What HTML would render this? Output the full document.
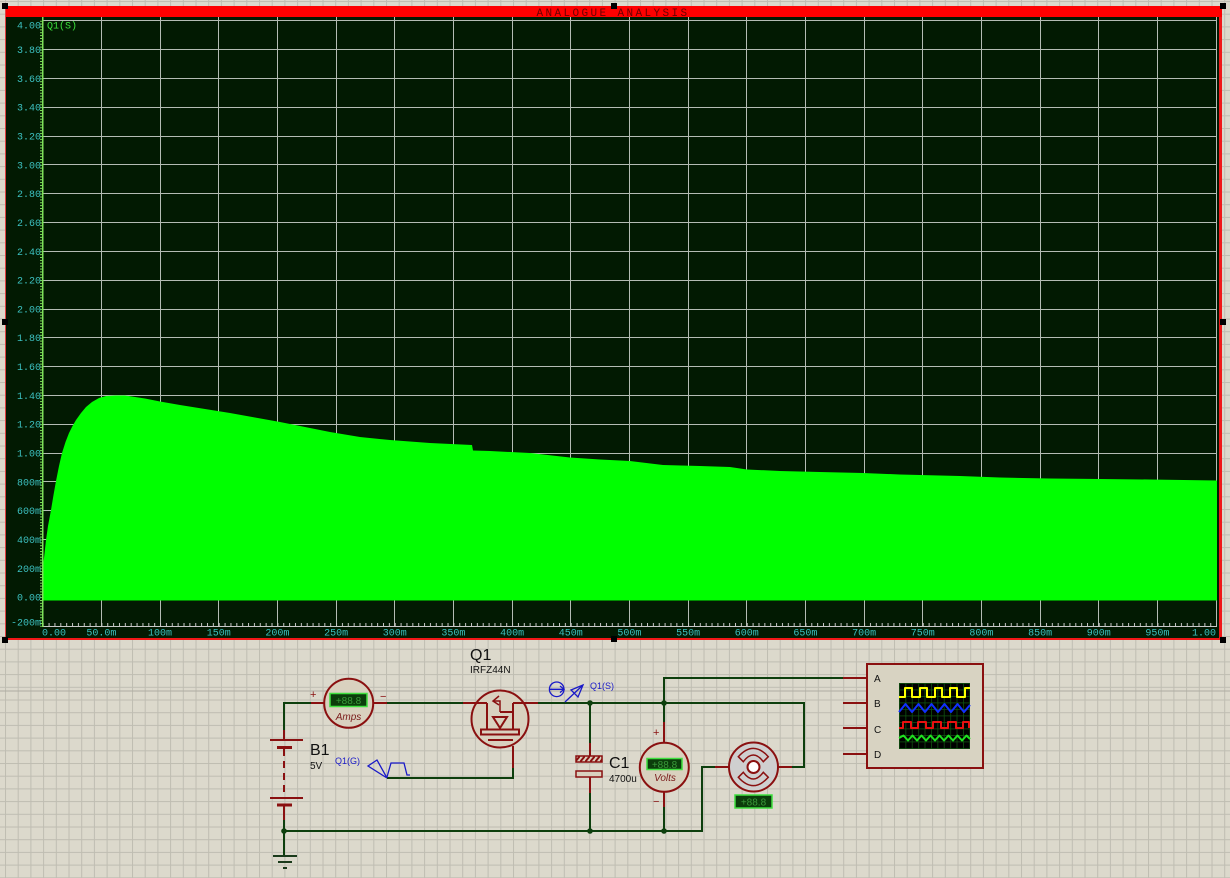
<!DOCTYPE html>
<html><head><meta charset="utf-8"><style>
html,body{margin:0;padding:0;background:#dcd9cc;}
svg{display:block;}
.mono{font-family:"Liberation Mono",monospace;}
.sans{font-family:"Liberation Sans",sans-serif;}
</style></head><body>
<svg width="1230" height="878" viewBox="0 0 1230 878" xmlns="http://www.w3.org/2000/svg">
<defs>
<pattern id="g" x="5" y="1" width="12.7" height="12.7" patternUnits="userSpaceOnUse">
<rect width="12.7" height="12.7" fill="#dcd9cc"/>
<rect x="0" y="0" width="1" height="12.7" fill="#bfbdb2"/>
<rect x="0" y="0" width="12.7" height="1" fill="#bfbdb2"/>
</pattern>
<pattern id="xt" x="42.7" y="0" width="5.867" height="10" patternUnits="userSpaceOnUse">
<rect x="0" y="0" width="1" height="10" fill="#c8c8c8"/>
</pattern>
<pattern id="yt" x="0" y="20.7" width="10" height="2.882" patternUnits="userSpaceOnUse">
<rect x="0" y="0" width="10" height="1" fill="#7ee05a"/>
</pattern>
<pattern id="hatch" x="0" y="0" width="5" height="6" patternUnits="userSpaceOnUse">
<rect width="5" height="6" fill="#d9d1bf"/>
<path d="M0,6 L5,0" stroke="#8a1010" stroke-width="2"/>
</pattern>
<pattern id="scr" x="899" y="683" width="6.4" height="6.5" patternUnits="userSpaceOnUse">
<rect width="6.4" height="6.5" fill="#000"/>
<rect x="0" y="0" width="0.8" height="6.5" fill="#0f4f0f"/>
<rect x="0" y="0" width="6.4" height="0.8" fill="#0f4f0f"/>
</pattern>
</defs>

<!-- background grid -->
<rect width="1230" height="878" fill="url(#g)"/>
<rect x="0" y="690.5" width="1230" height="1" fill="#aeaca2"/>

<!-- plot frame -->
<rect x="6" y="17" width="1213" height="622" fill="#021a02"/>
<rect x="5" y="6" width="1" height="634" fill="#e04040"/>
<rect x="1219" y="6" width="3" height="634" fill="#f01818"/>
<rect x="5" y="638" width="1217" height="2" fill="#f01818"/>
<rect x="6" y="6" width="1216" height="11" fill="#ff0000"/>
<text x="613" y="16" class="mono" font-size="11" fill="#6a0000" text-anchor="middle" letter-spacing="2.4">ANALOGUE ANALYSIS</text>

<!-- plot gridlines -->
<g stroke="#b4bcb4" stroke-width="1" fill="none">
<path d="M42.5,17V626M101.5,17V626M160.5,17V626M218.5,17V626M277.5,17V626M336.5,17V626M394.5,17V626M453.5,17V626M512.5,17V626M570.5,17V626M629.5,17V626M688.5,17V626M746.5,17V626M805.5,17V626M864.5,17V626M922.5,17V626M981.5,17V626M1040.5,17V626M1098.5,17V626M1157.5,17V626M1216.5,17V626"/>
<path d="M43,20.5H1217M43,49.5H1217M43,78.5H1217M43,107.5H1217M43,136.5H1217M43,164.5H1217M43,193.5H1217M43,222.5H1217M43,251.5H1217M43,280.5H1217M43,309.5H1217M43,337.5H1217M43,366.5H1217M43,395.5H1217M43,424.5H1217M43,453.5H1217M43,481.5H1217M43,510.5H1217M43,539.5H1217M43,568.5H1217M43,597.5H1217"/>
</g>

<!-- curve -->
<polygon fill="#00ff00" points="42.7,600.5 42.7,568 44,558 46,540 48,526 51,510 53.5,495 56,481 59,466 62,453 65.5,442 69,433 72.5,426 76,420 81,413 86,407 92,402 99,398 106,396 115,395.5 125,395.5 135,397 145,398.5 160,401.5 180,405 205,409 230,413 255,417.5 280,422 305,427 330,432 360,437 390,440 430,443 472,445 473,450.5 490,451 530,453 570,457.5 600,459.5 630,461 663,465 700,466 730,467 747,469.5 780,471 820,472 863,473 900,474.5 960,476 1000,477.5 1050,478.5 1100,479 1150,479.5 1217,480.5 1217,600.5"/>

<!-- axes -->
<rect x="42" y="626" width="1175" height="1" fill="#c8c8c8"/>
<rect x="42.7" y="623" width="1174" height="3" fill="url(#xt)"/>
<rect x="42" y="17" width="1.5" height="610" fill="#7ee05a"/>
<rect x="40" y="20.7" width="2" height="606" fill="url(#yt)"/>

<!-- y labels -->
<g class="mono" font-size="10" fill="#3cc0c0" text-anchor="end">
<text x="41" y="28.5">4.00</text>
<text x="41" y="53">3.80</text>
<text x="41" y="82">3.60</text>
<text x="41" y="110.7">3.40</text>
<text x="41" y="139.5">3.20</text>
<text x="41" y="168.3">3.00</text>
<text x="41" y="197.1">2.80</text>
<text x="41" y="226">2.60</text>
<text x="41" y="254.8">2.40</text>
<text x="41" y="283.6">2.20</text>
<text x="41" y="312.4">2.00</text>
<text x="41" y="341.2">1.80</text>
<text x="41" y="370">1.60</text>
<text x="41" y="398.9">1.40</text>
<text x="41" y="427.7">1.20</text>
<text x="41" y="456.5">1.00</text>
<text x="41" y="485.3">800m</text>
<text x="41" y="514.1">600m</text>
<text x="41" y="543">400m</text>
<text x="41" y="571.8">200m</text>
<text x="41" y="600.6">0.00</text>
<text x="41" y="625.5">-200m</text>
</g>
<!-- x labels -->
<g class="mono" font-size="10" fill="#3cc0c0" text-anchor="middle">
<text x="42" y="635.5" text-anchor="start">0.00</text>
<text x="101.4" y="635.5">50.0m</text>
<text x="160" y="635.5">100m</text>
<text x="218.7" y="635.5">150m</text>
<text x="277.4" y="635.5">200m</text>
<text x="336.1" y="635.5">250m</text>
<text x="394.7" y="635.5">300m</text>
<text x="453.4" y="635.5">350m</text>
<text x="512.1" y="635.5">400m</text>
<text x="570.7" y="635.5">450m</text>
<text x="629.4" y="635.5">500m</text>
<text x="688.1" y="635.5">550m</text>
<text x="746.7" y="635.5">600m</text>
<text x="805.4" y="635.5">650m</text>
<text x="864.1" y="635.5">700m</text>
<text x="922.8" y="635.5">750m</text>
<text x="981.4" y="635.5">800m</text>
<text x="1040.1" y="635.5">850m</text>
<text x="1098.8" y="635.5">900m</text>
<text x="1157.4" y="635.5">950m</text>
<text x="1216" y="635.5" text-anchor="end">1.00</text>
</g>
<text x="47" y="28.5" class="mono" font-size="10" fill="#3ce03c">Q1(S)</text>

<!-- handles -->
<g fill="#000">
<rect x="2" y="3" width="6" height="6"/>
<rect x="611" y="3" width="6" height="6"/>
<rect x="1220" y="3" width="6" height="6"/>
<rect x="2" y="319" width="6" height="6"/>
<rect x="1220" y="319" width="6" height="6"/>
<rect x="2" y="637" width="6" height="6"/>
<rect x="611" y="636" width="6" height="6"/>
<rect x="1220" y="637" width="6" height="6"/>
</g>

<!-- ===== schematic ===== -->
<g stroke-linecap="butt" fill="none">
<!-- green wires -->
<g stroke="#0d3f0d" stroke-width="2">
<path d="M284,730V703H311"/>
<path d="M387,703H463"/>
<path d="M538,703H804V767H792"/>
<path d="M664,703V678H843"/>
<path d="M284,820V855"/>
<path d="M284,831H702V767H715"/>
<path d="M513,768V778H387"/>
<path d="M590,703V743M590,793V831"/>
<path d="M664,703V722M664,807V831"/>
</g>
<!-- red pins -->
<g stroke="#8a1010" stroke-width="2">
<path d="M284,730V740"/>
<path d="M311,703H324"/>
<path d="M373,703H387"/>
<path d="M463,703H487M513,703H538"/>
<path d="M513,746V768"/>
<path d="M590,743V756M590,777V793"/>
<path d="M664,722V742M664,792V807"/>
<path d="M715,767H729M778,767H792"/>
<path d="M843,678H867M843,703H867M843,728H867M843,754H867"/>
<path d="M284,806V820"/>
<path d="M284,749V797" stroke-dasharray="7 5"/>
<path d="M270,740H303M270,798H303" stroke-width="2"/>
<path d="M277,747.5H292M277,805H292" stroke-width="3"/>
</g>
<!-- ground -->
<g stroke="#1a3a1a" stroke-width="2">
<path d="M273,856H297M278,862H292M283,868H287"/>
</g>
</g>
<!-- nodes -->
<g fill="#0d3f0d">
<circle cx="284" cy="831" r="2.8"/>
<circle cx="590" cy="703" r="2.8"/>
<circle cx="664" cy="703" r="2.8"/>
<circle cx="590" cy="831" r="2.8"/>
<circle cx="664" cy="831" r="2.8"/>
</g>

<!-- battery labels -->
<text x="310" y="755" class="sans" font-size="16" fill="#111">B1</text>
<text x="310" y="769" class="sans" font-size="10" fill="#111">5V</text>

<!-- ammeter -->
<circle cx="348.7" cy="703.3" r="24.5" fill="#d9d1bf" stroke="#8a1010" stroke-width="2"/>
<rect x="330" y="693.5" width="37" height="13" fill="#0b3d0b" stroke="#3fe03f" stroke-width="1.5"/>
<text x="348.5" y="704" class="sans" font-size="10" fill="#3a9a3a" text-anchor="middle">+88.8</text>
<text x="348.5" y="720" class="sans" font-size="10" font-style="italic" fill="#7a1a1a" text-anchor="middle">Amps</text>
<text x="310" y="698" class="sans" font-size="11" fill="#8a1010">+</text>
<text x="380" y="700" class="sans" font-size="11" fill="#8a1010">−</text>

<!-- MOSFET -->
<text x="470" y="660" class="sans" font-size="16" fill="#111">Q1</text>
<text x="470" y="673" class="sans" font-size="10" fill="#111">IRFZ44N</text>
<circle cx="500" cy="719" r="28.5" fill="#d9d1bf" stroke="#8a1010" stroke-width="2"/>
<g stroke="#8a1010" stroke-width="2" fill="none">
<path d="M463,703H487M513,703H538"/>
<path d="M487,703V729M513,703V729M500,712H513"/>
<path d="M488,740H513"/>
<path d="M493,717H507L500,728Z" fill="#d9d1bf"/>
<path d="M500,728V729"/>
<path d="M499,696L493,701L499,705" stroke-width="1.5"/>
<path d="M493,701H500V712" stroke-width="1.5"/>
</g>
<rect x="481" y="729.5" width="38" height="5" fill="#d9d1bf" stroke="#8a1010" stroke-width="2"/>

<!-- generator Q1(G) -->
<text x="335" y="764" class="sans" font-size="9" fill="#1a1ac8">Q1(G)</text>
<g stroke="#1a1ac8" stroke-width="1.3" fill="none">
<path d="M387,778L368,766L377,760Z"/>
<path d="M387,777L391,763H404L407,775H410"/>
</g>

<!-- probe Q1(S) -->
<g stroke="#1a1ac8" stroke-width="1.3" fill="none">
<circle cx="556.7" cy="689.3" r="7.3"/>
<path d="M549.5,689.3H564M560,686L564,689.3L560,692.6"/>
<path d="M565,702L583,685"/>
<path d="M583,685L571,690L578,697Z"/>
</g>
<text x="590" y="689" class="sans" font-size="9" fill="#1a1ac8">Q1(S)</text>

<!-- capacitor -->
<rect x="576" y="756" width="26" height="6" fill="url(#hatch)" stroke="#8a1010" stroke-width="1.5"/>
<rect x="576" y="771" width="26" height="6" fill="#d9d1bf" stroke="#8a1010" stroke-width="1.5"/>
<text x="609" y="768" class="sans" font-size="16" fill="#111">C1</text>
<text x="609" y="782" class="sans" font-size="10" fill="#111">4700u</text>

<!-- voltmeter -->
<circle cx="664.3" cy="767.3" r="24.5" fill="#d9d1bf" stroke="#8a1010" stroke-width="2"/>
<rect x="647" y="758.5" width="35" height="11" fill="#0b3d0b" stroke="#3fe03f" stroke-width="1.5"/>
<text x="664.5" y="768" class="sans" font-size="10" fill="#3a9a3a" text-anchor="middle">+88.8</text>
<text x="665" y="781" class="sans" font-size="10" font-style="italic" fill="#7a1a1a" text-anchor="middle">Volts</text>
<text x="653" y="736" class="sans" font-size="11" fill="#8a1010">+</text>
<text x="653" y="805" class="sans" font-size="11" fill="#8a1010">−</text>

<!-- motor -->
<circle cx="753.5" cy="767" r="24.5" fill="#cfcfcf" stroke="#8a1010" stroke-width="2"/>
<g stroke="#8a1010" stroke-width="1.5" fill="none">
<path d="M738.3,756.7Q753.3,740 768.3,756.7L763.3,761.7Q753.3,748.3 743.3,761.7Z"/>
<path d="M738.3,777.3Q753.3,794 768.3,777.3L763.3,772.3Q753.3,785.7 743.3,772.3Z"/>
</g>
<circle cx="753.5" cy="767" r="6" fill="#fff" stroke="#8a1010" stroke-width="2"/>
<rect x="735" y="795" width="37" height="13" fill="#0b3d0b" stroke="#3fe03f" stroke-width="1.5"/>
<text x="753.5" y="805.5" class="sans" font-size="10" fill="#3a9a3a" text-anchor="middle">+88.8</text>

<!-- oscilloscope -->
<rect x="867" y="664" width="116" height="104" fill="#d8d3c2" stroke="#8a1010" stroke-width="2"/>
<g class="sans" font-size="10" fill="#111">
<text x="874" y="682">A</text>
<text x="874" y="707">B</text>
<text x="874" y="733">C</text>
<text x="874" y="758">D</text>
</g>
<rect x="899" y="683" width="71" height="66" fill="url(#scr)"/>
<g fill="none" stroke-width="2" stroke-linejoin="round">
<path d="M899,697H905V688H912V697H920V688H927V697H935V688H942V697H950V688H957V697H965V688H970" stroke="#ffff00"/>
<polyline points="899,712 905.5,704 912,712 918.5,704 925,712 931.5,704 938,712 944.5,704 951,712 957.5,704 964,712 970,705" stroke="#1030ff"/>
<path d="M899,728H903V722H911V728H918V722H926V728H933V722H941V728H948V722H956V728H963V722H969V728" stroke="#e81010"/>
<polyline points="899,738 903.5,735.5 908,740.5 912.5,735.5 917,740.5 921.5,735.5 926,740.5 930.5,735.5 935,740.5 939.5,735.5 944,740.5 948.5,735.5 953,740.5 957.5,735.5 962,740.5 966.5,735.5 970,739" stroke="#20e020"/>
</g>
</svg>
</body></html>
